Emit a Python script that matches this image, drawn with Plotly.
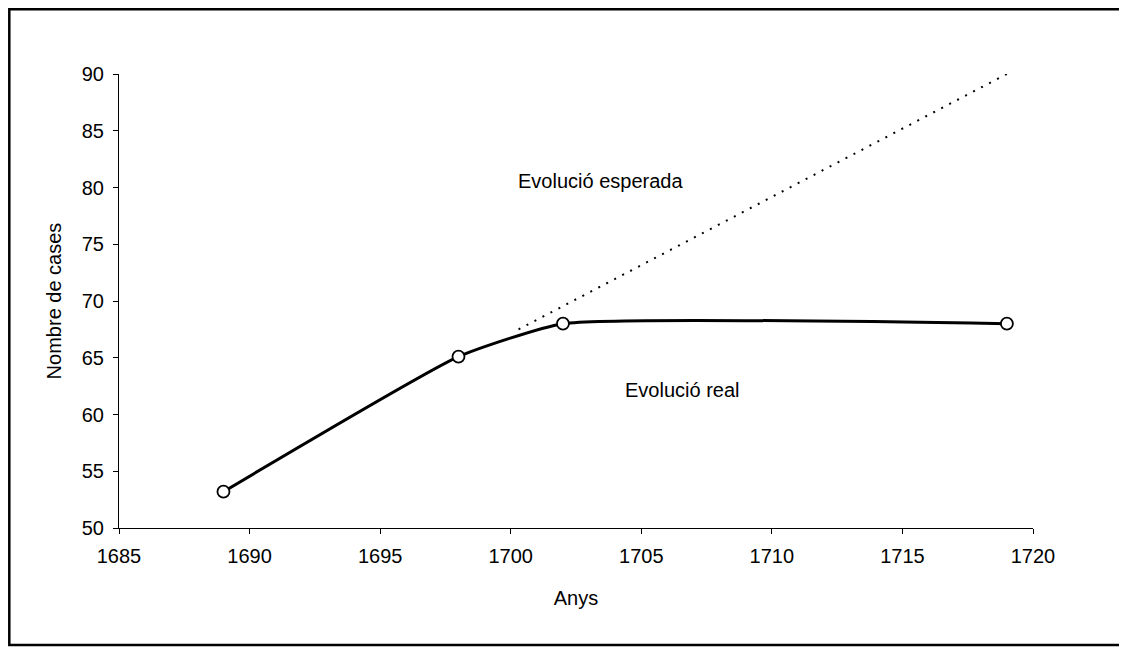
import plotly.graph_objects as go

# Data
real_years = [1689, 1698, 1702, 1719]
real_values = [53.2, 65.1, 68.0, 68.0]

expected_years = [1700.3, 1719]
expected_values = [67.5, 90.0]

x_ticks = [1685, 1690, 1695, 1700, 1705, 1710, 1715, 1720]
y_ticks = [50, 55, 60, 65, 70, 75, 80, 85, 90]

FONT = "Arial, Liberation Sans, sans-serif"
FS = 20

fig = go.Figure()

fig.add_trace(go.Scatter(
    x=expected_years, y=expected_values, mode="lines",
    line=dict(color="black", width=2, dash="2px,7px"),
    showlegend=False, hoverinfo="skip",
))

fig.add_trace(go.Scatter(
    x=real_years, y=real_values, mode="lines+markers",
    line=dict(color="black", width=3, shape="spline", smoothing=0.45),
    marker=dict(symbol="circle", size=12, color="white",
                line=dict(color="black", width=1.8)),
    showlegend=False,
))

# page body has an 8px offset
L, T = 111, 66
W, H = 1119, 644
pw, ph = 914, 454
R, B = W - L - pw, H - T - ph

fig.update_layout(
    width=W, height=H,
    margin=dict(l=L, r=R, t=T, b=B),
    paper_bgcolor="white", plot_bgcolor="white",
    font=dict(family=FONT, size=FS, color="black"),
    xaxis=dict(
        range=[1685, 1720], tickvals=x_ticks,
        showgrid=False, zeroline=False,
        showline=True, linecolor="black", linewidth=1,
        ticks="outside", ticklen=5, tickcolor="black",
        tickfont=dict(size=FS), ticklabelstandoff=5,
        title=dict(text="Anys", font=dict(size=FS), standoff=24),
    ),
    yaxis=dict(
        range=[50, 90], tickvals=y_ticks,
        showgrid=False, zeroline=False,
        showline=True, linecolor="black", linewidth=1,
        ticks="outside", ticklen=5, tickcolor="black",
        tickfont=dict(size=FS), ticklabelstandoff=5,
        title=dict(text="Nombre de cases", font=dict(size=FS), standoff=14),
    ),
    annotations=[
        dict(x=1700.2, y=80.6, xref="x", yref="y", text="Evolució esperada",
             showarrow=False, xanchor="left", yanchor="middle",
             font=dict(size=FS)),
        dict(x=1704.3, y=62.2, xref="x", yref="y", text="Evolució real",
             showarrow=False, xanchor="left", yanchor="middle",
             font=dict(size=FS)),
    ],
    shapes=[
        dict(type="rect", xref="paper", yref="paper",
             x0=(1.3 - L) / pw, x1=(1113 - L) / pw,
             y0=(H - B - 637) / ph, y1=(H - B - 1.3) / ph,
             line=dict(color="black", width=2.5), fillcolor="rgba(0,0,0,0)"),
    ],
)

fig.write_html("out.html")
